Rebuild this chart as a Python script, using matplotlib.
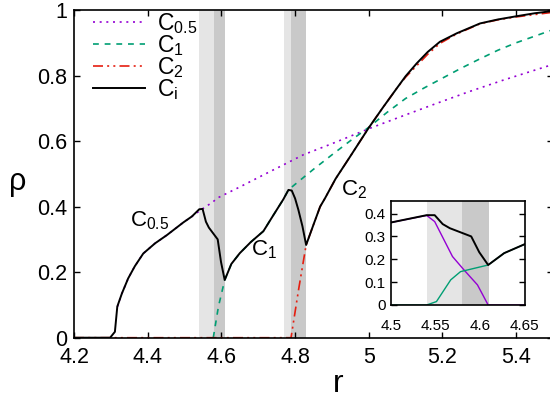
import numpy as np
import matplotlib
matplotlib.use("Agg")
import matplotlib.pyplot as plt

plt.rcParams['font.family'] = ['Liberation Sans', 'DejaVu Sans']
plt.rcParams['mathtext.fontset'] = 'custom'
plt.rcParams['mathtext.rm'] = 'Liberation Sans'
plt.rcParams['mathtext.it'] = 'Liberation Sans'

# colours (gnuplot defaults)
purple = '#9400d3'
green = '#009e73'
red = '#e51e10'
light = '#e5e5e5'
dark = '#c9c9c9'

# shaded bands (light, dark) in r
bands_light = [(4.54, 4.58), (4.77, 4.79)]
bands_dark = [(4.58, 4.61), (4.79, 4.83)]

# main curves
r_ci = [4.20, 4.298, 4.311, 4.3175, 4.33, 4.347, 4.365, 4.388, 4.42, 4.452, 4.497, 4.52,
        4.54, 4.549, 4.558, 4.566, 4.59, 4.599, 4.609, 4.627, 4.65, 4.68, 4.714, 4.74,
        4.768, 4.782, 4.791, 4.80, 4.809, 4.82, 4.830, 4.85, 4.868, 4.881, 4.91, 4.949,
        4.999, 5.04, 5.076, 5.10, 5.13, 5.16, 5.193, 5.239, 5.302, 5.35, 5.401, 5.45, 5.5]
rho_ci = [0, 0, 0.018, 0.095, 0.135, 0.181, 0.218, 0.257, 0.288, 0.313, 0.352, 0.370,
          0.392, 0.393, 0.354, 0.336, 0.300, 0.231, 0.176, 0.225, 0.258, 0.292, 0.325, 0.372,
          0.422, 0.451, 0.449, 0.425, 0.390, 0.340, 0.283, 0.345, 0.400, 0.425, 0.485, 0.552,
          0.639, 0.705, 0.761, 0.798, 0.837, 0.872, 0.903, 0.929, 0.959, 0.971, 0.981, 0.990, 0.997]

r_c05 = [4.318, 4.33, 4.347, 4.365, 4.388, 4.42, 4.452, 4.497, 4.52, 4.547, 4.578, 4.587,
         4.65, 4.732, 4.75, 4.822, 4.90, 5.003, 5.10, 5.184, 5.27, 5.365, 5.5]
rho_c05 = [0.095, 0.135, 0.181, 0.218, 0.257, 0.288, 0.313, 0.352, 0.370, 0.392, 0.415, 0.425,
           0.460, 0.507, 0.517, 0.558, 0.592, 0.639, 0.680, 0.715, 0.750, 0.786, 0.834]

r_c1 = [4.578, 4.592, 4.609, 4.627, 4.65, 4.68, 4.714, 4.74, 4.768, 4.782, 4.80, 4.85,
        4.90, 4.95, 5.0, 5.05, 5.1, 5.15, 5.2, 5.25, 5.3, 5.35, 5.4, 5.45, 5.5]
rho_c1 = [0, 0.095, 0.176, 0.225, 0.258, 0.292, 0.325, 0.372, 0.422, 0.451, 0.468, 0.514,
          0.558, 0.601, 0.642, 0.688, 0.730, 0.762, 0.792, 0.822, 0.850, 0.877, 0.900, 0.920, 0.940]

r_c2 = [4.20, 4.789, 4.81, 4.830, 4.85, 4.868, 4.881, 4.91, 4.949, 4.999, 5.04, 5.076,
        5.10, 5.13, 5.16, 5.193, 5.239, 5.302, 5.35, 5.401, 5.45, 5.5]
rho_c2 = [0, 0, 0.150, 0.283, 0.345, 0.400, 0.425, 0.485, 0.552, 0.639, 0.705, 0.761,
          0.795, 0.830, 0.865, 0.898, 0.927, 0.958, 0.970, 0.979, 0.986, 0.993]

# inset curves
r_in_c05 = [4.5, 4.54, 4.549, 4.569, 4.582, 4.597, 4.609, 4.65]
rho_in_c05 = [0.361, 0.392, 0.365, 0.212, 0.153, 0.088, 0, 0]
r_in_c1 = [4.5, 4.54, 4.551, 4.567, 4.578, 4.609, 4.627, 4.65]
rho_in_c1 = [0, 0, 0.015, 0.110, 0.146, 0.175, 0.227, 0.266]
r_in_ci = [4.5, 4.54, 4.549, 4.558, 4.566, 4.59, 4.599, 4.609, 4.627, 4.65]
rho_in_ci = [0.361, 0.393, 0.393, 0.354, 0.336, 0.300, 0.231, 0.175, 0.227, 0.266]

xticks = [4.2, 4.4, 4.6, 4.8, 5.0, 5.2, 5.4]
yticks = [0, 0.2, 0.4, 0.6, 0.8, 1.0]
xticks_in = [4.5, 4.55, 4.6, 4.65]
yticks_in = [0, 0.1, 0.2, 0.3, 0.4]

fig = plt.figure(figsize=(5.5, 3.99), dpi=100)
ax = fig.add_axes([74 / 550, 61.3 / 399, 479 / 550, 327.7 / 399])

for a, b in bands_light:
    ax.axvspan(a, b, color=light, lw=0, zorder=0)
for a, b in bands_dark:
    ax.axvspan(a, b, color=dark, lw=0, zorder=0)

ax.plot(r_c05, rho_c05, color=purple, lw=1.2, ls=(0, (1.2, 2.8)), label=r'$\mathrm{C}_{0.5}$')
ax.plot(r_c1, rho_c1, color=green, lw=1.2, ls=(0, (3.5, 3.5)), label=r'$\mathrm{C}_{1}$')
ax.plot(r_c2, rho_c2, color=red, lw=1.2, ls=(0, (6, 2.5, 1.2, 2.5, 1.2, 2.5)), label=r'$\mathrm{C}_{2}$')
ax.plot(r_ci, rho_ci, color='black', lw=1.4, label=r'$\mathrm{C}_{\mathrm{i}}$')

ax.set_xlim(4.2, 5.5)
ax.set_ylim(0, 1)
ax.set_xticks(xticks)
ax.set_yticks(yticks)
ax.set_xticklabels(['%g' % t for t in xticks])
ax.set_yticklabels(['%g' % t for t in yticks])
ax.tick_params(direction='in', length=4.5, width=1, labelsize=15.5, top=True, right=True)
ax.tick_params(axis='y', pad=5)
ax.tick_params(axis='x', pad=7)
for s in ax.spines.values():
    s.set_linewidth(1.2)

ax.set_xlabel('r', fontsize=23, va='center')
ax.xaxis.set_label_coords(0.551, -0.14)
ax.set_ylabel('ρ', fontsize=22, rotation=0, va='center', ha='center')
ax.yaxis.set_label_coords(-0.117, 0.475)

ax.text(4.352, 0.339, r'$\mathrm{C}_{0.5}$', fontsize=16, va='baseline')
ax.text(4.680, 0.252, r'$\mathrm{C}_{1}$', fontsize=16, va='baseline')
ax.text(4.925, 0.4355, r'$\mathrm{C}_{2}$', fontsize=16, va='baseline')

ax.legend(loc='upper left', bbox_to_anchor=(0.039, 0.998), frameon=False, fontsize=16.5,
          handlelength=2.3, handletextpad=0.5, labelspacing=-0.12, borderpad=0, borderaxespad=0)

# inset
axi = fig.add_axes([391 / 550, 94 / 399, 133.7 / 550, 104 / 399])
for a, b in bands_light:
    axi.axvspan(a, b, color=light, lw=0, zorder=0)
for a, b in bands_dark:
    axi.axvspan(a, b, color=dark, lw=0, zorder=0)
axi.plot(r_in_c05, rho_in_c05, color=purple, lw=1.0)
axi.plot(r_in_c1, rho_in_c1, color=green, lw=1.0)
axi.plot(r_in_ci, rho_in_ci, color='black', lw=1.4)
axi.set_xlim(4.5, 4.647)
axi.set_ylim(0, 0.455)
axi.set_xticks(xticks_in)
axi.set_yticks(yticks_in)
axi.set_xticklabels(['%g' % t for t in xticks_in])
axi.set_yticklabels(['%g' % t for t in yticks_in])
axi.tick_params(axis='y', direction='in', length=4.5, width=1, labelsize=11, right=True, pad=4)
axi.tick_params(axis='x', direction='in', length=0, labelsize=11, pad=10)
for s in axi.spines.values():
    s.set_linewidth(1.2)

fig.savefig('out.png', dpi=100)
